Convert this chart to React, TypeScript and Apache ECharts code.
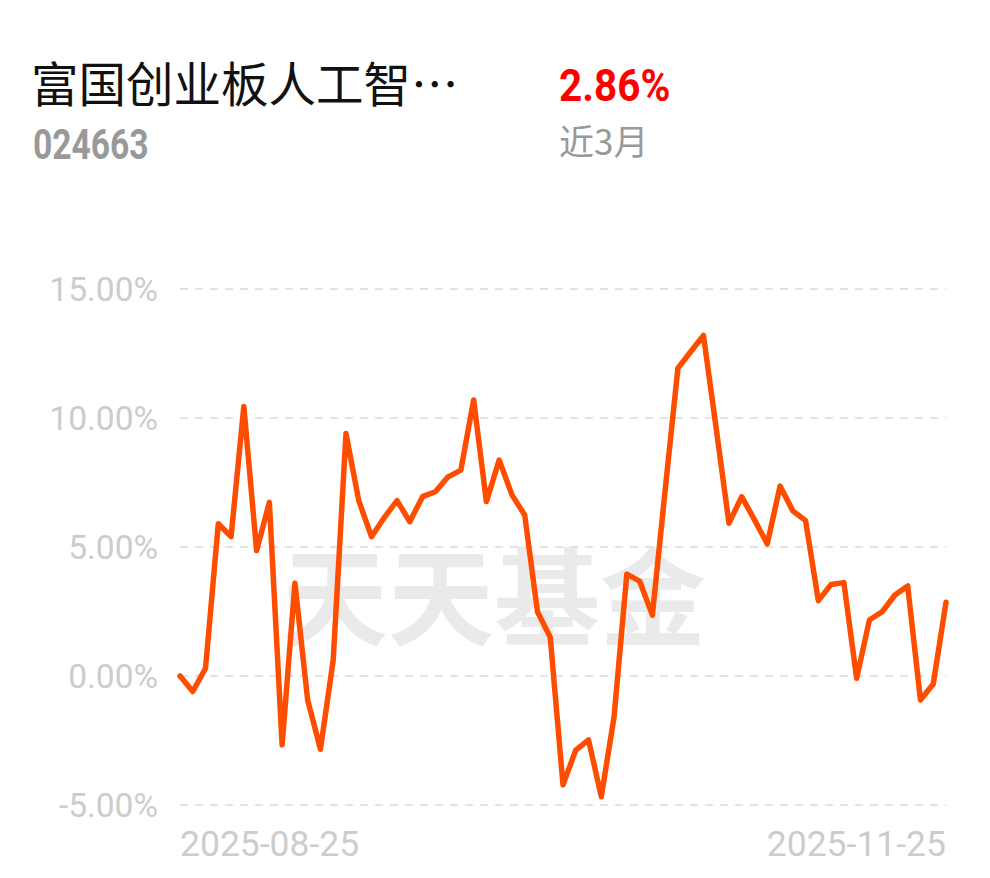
import React, { useEffect, useRef } from "react";
import * as echarts from "echarts";

const fundName = "富国创业板人工智…";
const fundCode = "024663";
const periodReturn = "2.86%";
const periodLabel = "近3月";
const watermark = "天天基金";

const dates: string[] = [
  "2025-08-25", "2025-08-26", "2025-08-27", "2025-08-28", "2025-08-29",
  "2025-09-01", "2025-09-02", "2025-09-03", "2025-09-04", "2025-09-05",
  "2025-09-08", "2025-09-09", "2025-09-10", "2025-09-11", "2025-09-12",
  "2025-09-15", "2025-09-16", "2025-09-17", "2025-09-18", "2025-09-19",
  "2025-09-22", "2025-09-23", "2025-09-24", "2025-09-25", "2025-09-26",
  "2025-09-29", "2025-09-30",
  "2025-10-09", "2025-10-10",
  "2025-10-13", "2025-10-14", "2025-10-15", "2025-10-16", "2025-10-17",
  "2025-10-20", "2025-10-21", "2025-10-22", "2025-10-23", "2025-10-24",
  "2025-10-27", "2025-10-28", "2025-10-29", "2025-10-30", "2025-10-31",
  "2025-11-03", "2025-11-04", "2025-11-05", "2025-11-06", "2025-11-07",
  "2025-11-10", "2025-11-11", "2025-11-12", "2025-11-13", "2025-11-14",
  "2025-11-17", "2025-11-18", "2025-11-19", "2025-11-20", "2025-11-21",
  "2025-11-24", "2025-11-25",
];

const returns: number[] = [
  0.0, -0.6, 0.3, 5.9, 5.4, 10.45, 4.86, 6.73, -2.67, 3.6,
  -0.93, -2.84, 0.62, 9.4, 6.8, 5.4, 6.14, 6.8, 5.98, 6.95,
  7.14, 7.72, 7.98, 10.7, 6.76, 8.37, 7.02, 6.24, 2.49, 1.5,
  -4.22, -2.87, -2.48, -4.68, -1.58, 3.95, 3.68, 2.36, 7.2, 11.93,
  12.57, 13.2, 9.6, 5.92, 6.95, 6.05, 5.12, 7.36, 6.4, 6.02,
  2.92, 3.55, 3.62, -0.09, 2.17, 2.49, 3.14, 3.49, -0.93, -0.31,
  2.86,
];

const yMin = -5;
const yMax = 15;
const yInterval = 5;

export default function App() {
  const ref = useRef<HTMLDivElement>(null);

  useEffect(() => {
    if (!ref.current) return;
    const chart = echarts.init(ref.current, undefined, { renderer: "svg" });
    const last = dates.length - 1;
    chart.setOption({
      animation: false,
      backgroundColor: "#ffffff",
      graphic: [
        {
          type: "text",
          x: 31,
          y: 58,
          style: {
            text: fundName,
            fontSize: 47.5,
            fill: "#111111",
            fontFamily: "Noto Sans CJK SC",
          },
        },
        {
          type: "text",
          x: 33,
          y: 124,
          scaleX: 0.8,
          style: {
            text: fundCode,
            fontSize: 42,
            fontWeight: "bold",
            fill: "#999999",
            fontFamily: "Roboto, sans-serif",
          },
        },
        {
          type: "text",
          x: 559,
          y: 64,
          scaleX: 0.92,
          style: {
            text: periodReturn,
            fontSize: 44,
            fontWeight: "bold",
            fill: "#ff0000",
            fontFamily: "Roboto, sans-serif",
          },
        },
        {
          type: "text",
          x: 559,
          y: 122,
          style: {
            text: periodLabel,
            fontSize: 35,
            fill: "#999999",
            fontFamily: "Noto Sans CJK SC",
          },
        },
        {
          type: "text",
          x: 282,
          y: 538,
          z: -1,
          style: {
            text: watermark,
            fontSize: 106,
            fontWeight: "bold",
            fill: "#eaeaea",
            fontFamily: "Noto Sans CJK SC",
          },
        },
      ],
      grid: { left: 180, right: 44, top: 289, bottom: 73 },
      xAxis: {
        type: "category",
        data: dates,
        boundaryGap: false,
        axisLine: { show: false },
        axisTick: { show: false },
        splitLine: { show: false },
        axisLabel: {
          interval: (i: number) => i === 0 || i === last,
          alignMinLabel: "left",
          alignMaxLabel: "right",
          color: "#cccccc",
          fontSize: 35.5,
          margin: 21,
          fontFamily: "Roboto, sans-serif",
        },
      },
      yAxis: {
        type: "value",
        min: yMin,
        max: yMax,
        interval: yInterval,
        axisLine: { show: false },
        axisTick: { show: false },
        axisLabel: {
          color: "#cccccc",
          fontSize: 33.5,
          margin: 22,
          fontFamily: "Roboto, sans-serif",
          formatter: (v: number) => v.toFixed(2) + "%",
        },
        splitLine: {
          lineStyle: { color: "#e3e3e3", width: 2, type: [8, 7] },
        },
      },
      series: [
        {
          type: "line",
          data: returns,
          symbol: "none",
          z: 5,
          lineStyle: { color: "#ff4d00", width: 5.5, join: "round", cap: "round" },
        },
      ],
    });
    return () => chart.dispose();
  }, []);

  return (
    <div
      ref={ref}
      style={{ position: "fixed", left: 0, top: 0, width: 990, height: 878 }}
    />
  );
}
